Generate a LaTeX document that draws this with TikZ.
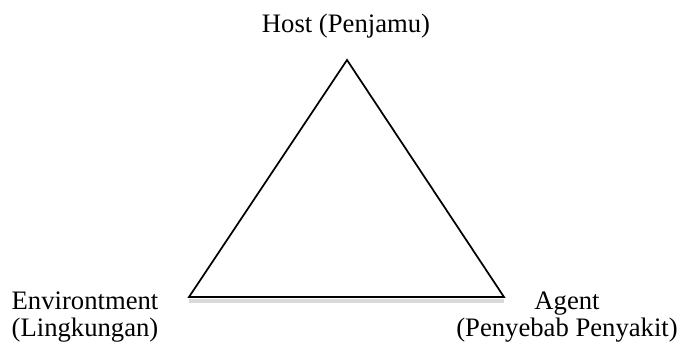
\documentclass[tikz,border=0pt]{standalone}
\usepackage{fontspec}
\setmainfont{Liberation Serif}
\usetikzlibrary{positioning}

\begin{document}
\begin{tikzpicture}[x=0.75pt, y=-0.75pt, label/.style={align=center, inner sep=0pt, font=\fontsize{20}{20.3}\selectfont}]
	\useasboundingbox (0,0) rectangle (680,349);

	\coordinate (apex) at (347,60);
	\coordinate (left) at (189,297);
	\coordinate (right) at (504,297);

	\node[label] (host) at (346,26) {Host (Penjamu)};
	\node[label] (env) at (85,317) {Environtment\\(Lingkungan)};
	\node[label] (agent) at (567,317) {Agent\\(Penyebab Penyakit)};

	% soft shadow under the base
	\draw[black!25, line width=3pt, opacity=0.6] ([yshift=-3pt]left) -- ([yshift=-3pt]right);
	\draw[line width=1.3pt, line join=miter] (apex) -- (right) -- (left) -- cycle;

\end{tikzpicture}
\end{document}
